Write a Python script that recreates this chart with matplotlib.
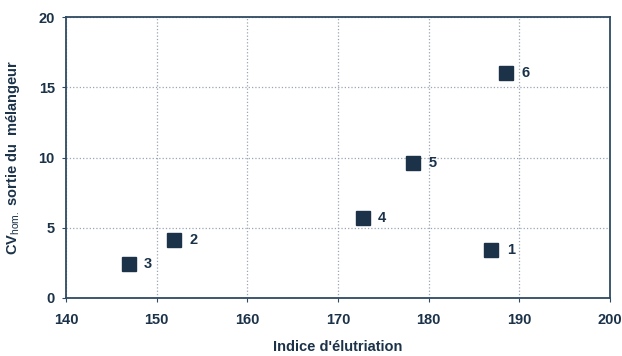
import matplotlib
matplotlib.use('Agg')
import matplotlib.pyplot as plt

plt.rcParams['font.family'] = ['Liberation Sans', 'DejaVu Sans']
plt.rcParams['mathtext.fontset'] = 'custom'
plt.rcParams['mathtext.rm'] = 'Liberation Sans'

# elutriation index vs homogeneity CV at mixer outlet
indice = [186.9, 151.9, 146.9, 172.7, 178.3, 188.5]
cv_hom = [3.4, 4.1, 2.4, 5.7, 9.6, 16.0]
labels = ['1', '2', '3', '4', '5', '6']

navy = '#1b3249'
spine_col = '#2f4a62'

fig = plt.figure(figsize=(6.22, 3.56), dpi=100)
ax = fig.add_axes([0.106, 0.163, 0.875, 0.789])

ax.plot(indice, cv_hom, 's', color=navy, markersize=10, linestyle='none', zorder=3)
for x, y, lab in zip(indice, cv_hom, labels):
    ax.annotate(lab, (x, y), xytext=(11, 0), textcoords='offset points',
                va='center', ha='left', fontsize=10.5, fontweight='bold', color=navy)

ax.set_xlim(140, 200)
ax.set_ylim(0, 20)
ax.set_xticks(range(140, 201, 10))
ax.set_yticks(range(0, 21, 5))
ax.grid(True, linestyle=':', color='#9aa6b3', linewidth=0.9)
ax.set_axisbelow(True)
for s in ax.spines.values():
    s.set_color(spine_col)
    s.set_linewidth(1.3)
ax.tick_params(axis='both', colors=spine_col, labelcolor=navy, labelsize=10.5,
               length=3, width=0.8)
ax.tick_params(axis='x', pad=8)
ax.tick_params(axis='y', pad=5)
for t in ax.get_xticklabels() + ax.get_yticklabels():
    t.set_fontweight('bold')

ax.set_xlabel("Indice d'élutriation", fontsize=10.5, fontweight='bold', color=navy, labelpad=9)
ax.set_ylabel(r'CV$_{\mathrm{hom.}}$ sortie du  mélangeur', fontsize=10.5,
              fontweight='bold', color=navy, labelpad=12)

plt.savefig('out.png', dpi=100)
